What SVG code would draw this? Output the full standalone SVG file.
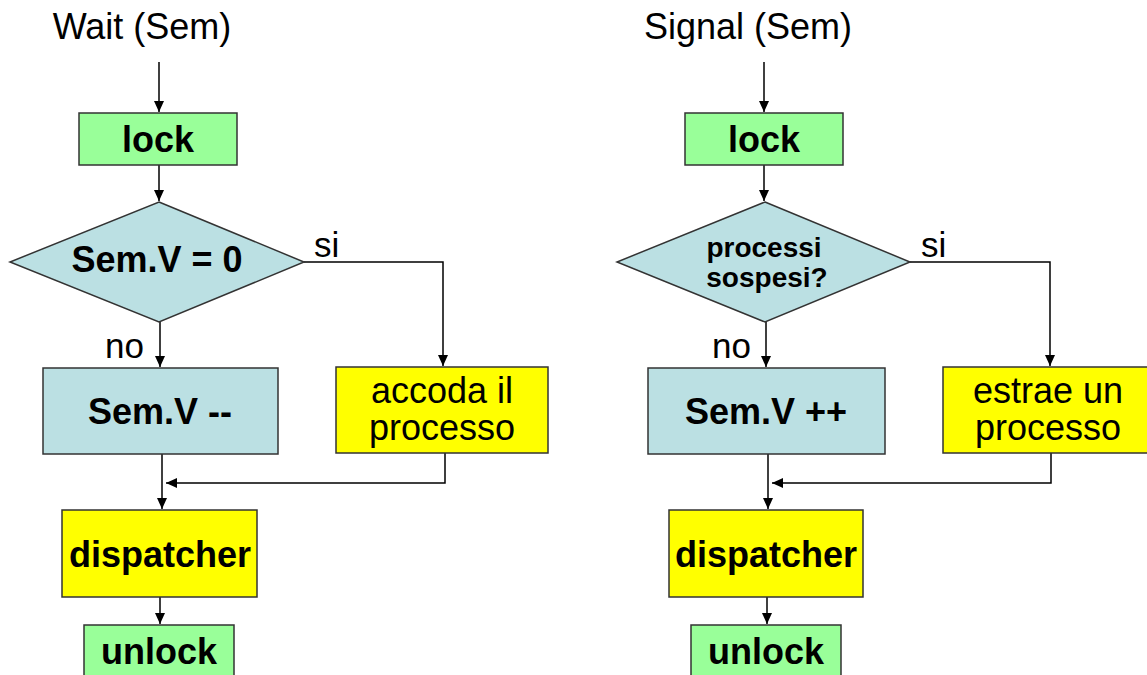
<svg xmlns="http://www.w3.org/2000/svg" width="1147" height="675" viewBox="0 0 1147 675">
<style>
.box{stroke:#333;stroke-width:1.5}
.green{fill:#99FF99}
.blue{fill:#BBE0E3}
.yellow{fill:#FFFF00}
.t{font-family:"Liberation Sans",Arial,sans-serif;fill:#000;text-anchor:middle}
.b{font-weight:bold;font-size:36px}
.r{font-size:36px}
.s{font-weight:bold;font-size:28px}
.lbl{font-family:"Liberation Sans",Arial,sans-serif;font-size:35px;fill:#000}
.c{fill:none;stroke:#000;stroke-width:1.5}
</style>
<defs>
<marker id="ah" markerUnits="userSpaceOnUse" markerWidth="12" markerHeight="12" viewBox="0 0 12 12" refX="11" refY="6" orient="auto">
<path d="M0,1 L11,6 L0,11 Z" fill="#000"/>
</marker>
</defs>
<rect width="1147" height="675" fill="#fff"/>

<text class="t r" x="142" y="39">Wait (Sem)</text>
<text class="t r" x="748" y="39">Signal (Sem)</text>

<g id="connectors">
<line class="c" x1="159" y1="62" x2="159" y2="112" marker-end="url(#ah)"/>
<line class="c" x1="159" y1="165" x2="159" y2="201" marker-end="url(#ah)"/>
<line class="c" x1="160" y1="322" x2="160" y2="367" marker-end="url(#ah)"/>
<polyline class="c" points="304,262 443,262 443,366" marker-end="url(#ah)"/>
<line class="c" x1="162" y1="454" x2="162" y2="509" marker-end="url(#ah)"/>
<polyline class="c" points="445,453 445,483 166,483" marker-end="url(#ah)"/>
<line class="c" x1="160" y1="597" x2="160" y2="624" marker-end="url(#ah)"/>

<line class="c" x1="764" y1="62" x2="764" y2="112" marker-end="url(#ah)"/>
<line class="c" x1="764" y1="165" x2="764" y2="201" marker-end="url(#ah)"/>
<line class="c" x1="766" y1="322" x2="766" y2="367" marker-end="url(#ah)"/>
<polyline class="c" points="910,262 1050,262 1050,366" marker-end="url(#ah)"/>
<line class="c" x1="768" y1="454" x2="768" y2="509" marker-end="url(#ah)"/>
<polyline class="c" points="1051,453 1051,483 772,483" marker-end="url(#ah)"/>
<line class="c" x1="767" y1="597" x2="767" y2="624" marker-end="url(#ah)"/>
</g>

<text class="lbl" x="314" y="257">si</text>
<text class="lbl" x="105" y="358">no</text>
<text class="lbl" x="921" y="257">si</text>
<text class="lbl" x="712" y="358">no</text>

<g id="w-lock"><rect class="box green" x="79" y="113" width="158" height="52"/><text class="t b" x="158" y="152">lock</text></g>
<g id="w-cond"><polygon class="box blue" points="159,202 304,262 159,322 10,262"/><text class="t b" x="157" y="272">Sem.V = 0</text></g>
<g id="w-dec"><rect class="box blue" x="43" y="368" width="235" height="86"/><text class="t b" x="160" y="424">Sem.V --</text></g>
<g id="w-queue"><rect class="box yellow" x="336" y="367" width="212" height="86"/><text class="t r" x="442" y="403">accoda il</text><text class="t r" x="442" y="440">processo</text></g>
<g id="w-disp"><rect class="box yellow" x="62" y="510" width="195" height="87"/><text class="t b" x="160" y="567">dispatcher</text></g>
<g id="w-unlock"><rect class="box green" x="84" y="625" width="150" height="70"/><text class="t b" x="159" y="664">unlock</text></g>

<g id="s-lock"><rect class="box green" x="685" y="113" width="158" height="52"/><text class="t b" x="764" y="152">lock</text></g>
<g id="s-cond"><polygon class="box blue" points="765,202 910,262 765,322 617,262"/><text class="t s" x="764" y="257">processi</text><text class="t s" x="767" y="287">sospesi?</text></g>
<g id="s-inc"><rect class="box blue" x="648" y="368" width="237" height="86"/><text class="t b" x="766" y="424">Sem.V ++</text></g>
<g id="s-extract"><rect class="box yellow" x="943" y="367" width="212" height="86"/><text class="t r" x="1048" y="403">estrae un</text><text class="t r" x="1048" y="440">processo</text></g>
<g id="s-disp"><rect class="box yellow" x="669" y="510" width="194" height="87"/><text class="t b" x="766" y="567">dispatcher</text></g>
<g id="s-unlock"><rect class="box green" x="691" y="625" width="150" height="70"/><text class="t b" x="766" y="664">unlock</text></g>
</svg>
